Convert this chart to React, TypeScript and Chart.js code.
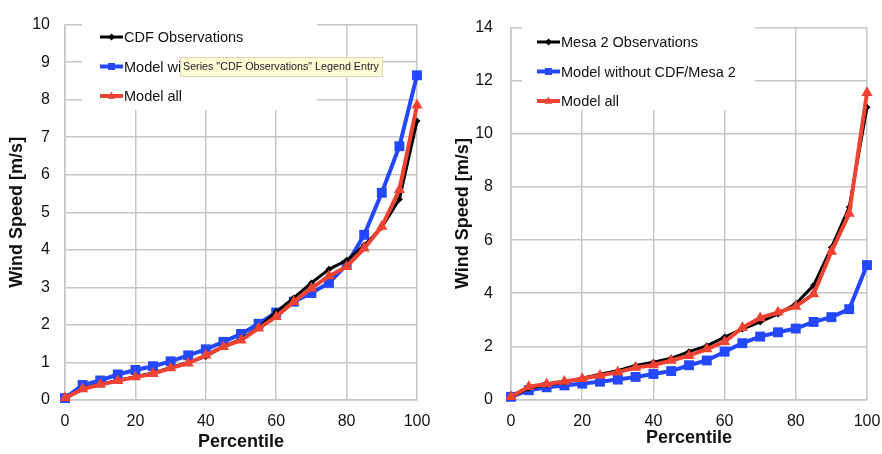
import React, { useEffect, useRef } from "react";
import { Chart, registerables } from "chart.js";

Chart.register(...registerables);

// ---------- DATA ----------
const percentiles = [0, 5, 10, 15, 20, 25, 30, 35, 40, 45, 50, 55, 60, 65, 70, 75, 80, 85, 90, 95, 100];

const cdfLabels = ["CDF Observations", "Model without CDF/Mesa 2", "Model all"];
const cdfObs = [0.05, 0.3, 0.42, 0.52, 0.62, 0.72, 0.86, 1.0, 1.16, 1.42, 1.62, 1.93, 2.35, 2.72, 3.12, 3.48, 3.72, 4.12, 4.6, 5.35, 7.43];
const cdfModelWithout = [0.05, 0.4, 0.52, 0.68, 0.8, 0.9, 1.03, 1.19, 1.35, 1.55, 1.76, 2.03, 2.33, 2.62, 2.85, 3.12, 3.6, 4.4, 5.52, 6.76, 8.65];
const cdfModelAll = [0.05, 0.29, 0.41, 0.51, 0.61, 0.7, 0.85, 0.98, 1.19, 1.42, 1.59, 1.91, 2.22, 2.62, 2.98, 3.3, 3.55, 4.04, 4.62, 5.6, 7.85];

const mesaLabels = ["Mesa 2 Observations", "Model without CDF/Mesa 2", "Model all"];
const mesaObs = [0.1, 0.42, 0.55, 0.65, 0.8, 0.95, 1.08, 1.28, 1.4, 1.55, 1.8, 2.02, 2.35, 2.65, 2.92, 3.22, 3.6, 4.3, 5.72, 7.24, 11.0];
const mesaModelWithout = [0.1, 0.35, 0.46, 0.53, 0.6, 0.67, 0.75, 0.85, 0.96, 1.07, 1.29, 1.47, 1.8, 2.12, 2.37, 2.53, 2.67, 2.92, 3.1, 3.4, 5.06];
const mesaModelAll = [0.1, 0.48, 0.58, 0.68, 0.78, 0.9, 1.03, 1.2, 1.3, 1.47, 1.65, 1.9, 2.17, 2.7, 3.07, 3.28, 3.5, 3.97, 5.57, 7.0, 11.55];

const tooltipText = 'Series "CDF Observations" Legend Entry';

// ---------- STYLE ----------
const BLACK = "#000000";
const BLUE = "#2448ff";
const RED = "#ee4232";
const GRID = "#c6c6c6";
const TEXT = "#111111";
const FONT = '"Liberation Sans", Arial, sans-serif';

const pts = (vals: number[]) => percentiles.map((x, i) => ({ x, y: vals[i] }));

const markerOf = ["diamond", "square", "triangle"];

function drawMarker(ctx: CanvasRenderingContext2D, kind: string, x: number, y: number, s: number, color: string) {
  ctx.save();
  ctx.fillStyle = color;
  ctx.beginPath();
  if (kind === "diamond") {
    ctx.moveTo(x, y - s);
    ctx.lineTo(x + s, y);
    ctx.lineTo(x, y + s);
    ctx.lineTo(x - s, y);
  } else if (kind === "square") {
    ctx.rect(x - s, y - s, 2 * s, 2 * s);
  } else {
    ctx.moveTo(x, y - s * 1.1);
    ctx.lineTo(x + s, y + s * 0.7);
    ctx.lineTo(x - s, y + s * 0.7);
  }
  ctx.closePath();
  ctx.fill();
  ctx.restore();
}

const overlayPlugin = {
  id: "overlay",
  beforeDatasetsDraw(chart: any, _args: any, opts: any) {
    const ctx = chart.ctx as CanvasRenderingContext2D;
    const b = opts.box;
    ctx.save();
    ctx.fillStyle = "#ffffff";
    ctx.fillRect(b.x, b.y, b.w, b.h);
    ctx.restore();
  },
  afterDraw(chart: any, _args: any, opts: any) {
    const ctx = chart.ctx as CanvasRenderingContext2D;
    const L = opts.legend;
    ctx.save();
    chart.data.datasets.forEach((ds: any, i: number) => {
      const y = L.y0 + i * L.dy;
      ctx.strokeStyle = ds.borderColor;
      ctx.lineWidth = L.lw[i];
      ctx.beginPath();
      ctx.moveTo(L.x0, y);
      ctx.lineTo(L.x1, y);
      ctx.stroke();
      drawMarker(ctx, markerOf[i], (L.x0 + L.x1) / 2, y, L.ms[i], ds.borderColor);
      ctx.fillStyle = TEXT;
      ctx.font = `${L.fontSize}px ${FONT}`;
      ctx.textBaseline = "middle";
      ctx.textAlign = "left";
      ctx.fillText(ds.label, L.x1 + 1, y + 1);
    });
    const t = opts.tip;
    if (t) {
      ctx.fillStyle = "#fcfcd2";
      ctx.strokeStyle = "#d8d8b8";
      ctx.lineWidth = 1;
      ctx.fillRect(t.x, t.y, t.w, t.h);
      ctx.strokeRect(t.x + 0.5, t.y + 0.5, t.w - 1, t.h - 1);
      ctx.font = `12px ${FONT}`;
      const w = ctx.measureText(t.text).width;
      const fs = 12 * (t.tw / w);
      ctx.font = `${fs}px ${FONT}`;
      ctx.fillStyle = "#1a1a2a";
      ctx.textBaseline = "middle";
      ctx.fillText(t.text, t.x + 3, t.y + t.h / 2 + 0.5);
    }
    ctx.restore();
  },
};

function makeConfig(p: any): any {
  const ds = (label: string, vals: number[], color: string, style: string, radius: number, bw: number, order: number) => ({
    label,
    data: pts(vals),
    borderColor: color,
    backgroundColor: color,
    borderWidth: bw,
    pointStyle: style,
    pointRadius: radius,
    pointBackgroundColor: color,
    pointBorderColor: color,
    pointBorderWidth: 0,
    tension: 0,
    clip: false,
    order,
  });
  return {
    type: "line",
    data: {
      datasets: [
        ds(p.labels[0], p.series[0], BLACK, "rectRot", 3.5, 3, 1),
        ds(p.labels[1], p.series[1], BLUE, "rect", 7, 4, 2),
        ds(p.labels[2], p.series[2], RED, "triangle", 6.5, 4, 0),
      ],
    },
    options: {
      responsive: false,
      animation: false,
      events: [],
      layout: { padding: { left: 0, top: 14, right: p.padRight, bottom: 0 } },
      plugins: {
        legend: { display: false },
        tooltip: { enabled: false },
        overlay: { box: p.box, legend: p.legend, tip: p.tip },
      },
      scales: {
        x: {
          type: "linear",
          min: 0,
          max: 100,
          ticks: { stepSize: 20, padding: 12, color: TEXT, font: { size: 16, family: FONT } },
          grid: { color: GRID, lineWidth: 1.5, drawTicks: false },
          border: { color: GRID, width: 1.5 },
          title: {
            display: true,
            text: "Percentile",
            color: TEXT,
            font: { size: 18, weight: "bold", family: FONT },
            padding: { top: p.xTitlePad, bottom: p.xTitlePad },
          },
          afterFit: (s: any) => {
            s.height = p.xHeight;
            s.paddingLeft = 0;
            s.paddingRight = 0;
          },
        },
        y: {
          type: "linear",
          min: 0,
          max: p.ymax,
          ticks: { stepSize: p.ystep, padding: p.yTickPad, color: TEXT, font: { size: 16, family: FONT } },
          grid: { color: GRID, lineWidth: 1.5, drawTicks: false },
          border: { color: GRID, width: 1.5 },
          title: {
            display: true,
            text: "Wind Speed [m/s]",
            color: TEXT,
            font: { size: 18, weight: "bold", family: FONT },
            padding: { top: p.yTitlePad, bottom: 0 },
          },
          afterFit: (s: any) => {
            s.width = p.yWidth;
          },
        },
      },
    },
    plugins: [overlayPlugin],
  };
}

const leftParams = {
  labels: cdfLabels,
  series: [cdfObs, cdfModelWithout, cdfModelAll],
  ymax: 10,
  ystep: 1,
  yWidth: 65,
  yTickPad: 15,
  yTitlePad: 6,
  padRight: 23,
  xHeight: 54,
  xTitlePad: 1,
  box: { x: 82, y: 15, w: 235, h: 95 },
  legend: { x0: 100, x1: 123, y0: 37, dy: 29.5, lw: [3, 4, 4], ms: [3.5, 3.5, 4], fontSize: 14.5 },
  tip: { x: 180, y: 57, w: 203, h: 20, tw: 196, text: tooltipText },
};

const rightParams = {
  labels: mesaLabels,
  series: [mesaObs, mesaModelWithout, mesaModelAll],
  ymax: 14,
  ystep: 2,
  yWidth: 71,
  yTickPad: 18,
  yTitlePad: 12,
  padRight: 15,
  xHeight: 54.5,
  xTitlePad: 5,
  box: { x: 82, y: 15, w: 233, h: 95 },
  legend: { x0: 97, x1: 120, y0: 42, dy: 29.5, lw: [3, 4, 4], ms: [3.5, 3.5, 4], fontSize: 14.5 },
  tip: null,
};

function ChartCanvas({ params, left, width }: { params: any; left: number; width: number }) {
  const ref = useRef<HTMLCanvasElement | null>(null);
  useEffect(() => {
    if (!ref.current) return;
    const chart = new Chart(ref.current, makeConfig(params));
    return () => chart.destroy();
  }, [params]);
  return (
    <canvas
      ref={ref}
      width={width}
      height={454}
      style={{ position: "absolute", left, top: 0, width, height: 454 }}
    />
  );
}

export default function App() {
  return (
    <div style={{ position: "fixed", left: 0, top: 0, width: 882, height: 454, background: "#ffffff", overflow: "hidden" }}>
      <ChartCanvas params={leftParams} left={0} width={440} />
      <ChartCanvas params={rightParams} left={440} width={442} />
    </div>
  );
}
